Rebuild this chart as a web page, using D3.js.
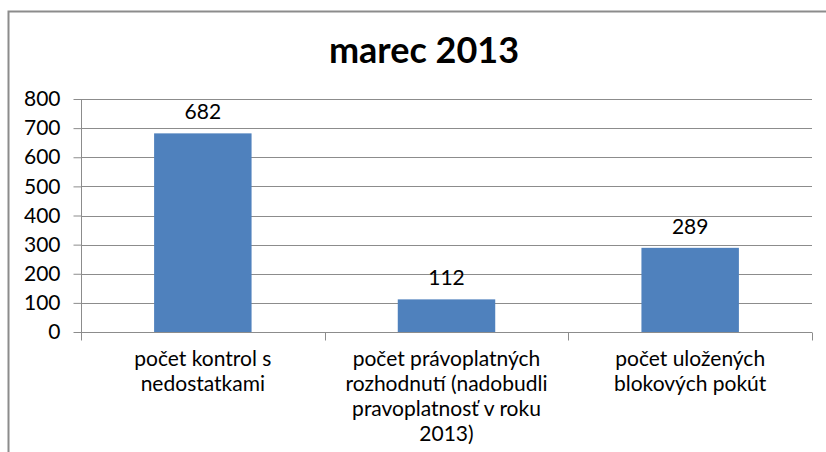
<!DOCTYPE html>
<html><head><meta charset="utf-8">
<script src="https://cdn.jsdelivr.net/npm/d3@7"></script>
<style>body{margin:0;background:#fff;}svg{display:block;}</style>
</head><body>
<svg id="c" width="826" height="452"></svg>
<script>
const title = "marec 2013";
const categories = [
  ["počet kontrol s", "nedostatkami"],
  ["počet právoplatných", "rozhodnutí (nadobudli", "pravoplatnosť  v roku", "2013)"],
  ["počet uložených", "blokových pokút"]
];
const values = [682, 112, 289];
const yTicks = [0, 100, 200, 300, 400, 500, 600, 700, 800];

const svg = d3.select("#c");
const font = "Lato, 'Open Sans', sans-serif";
const m = {left: 81, right: 812, top: 99, bottom: 332};

svg.append("rect").attr("x", 8.5).attr("y", 11.5).attr("width", 830).attr("height", 460)
  .attr("fill", "none").attr("stroke", "#8c8c8c").attr("stroke-width", 2);

svg.append("text").attr("x", 424).attr("y", 63).attr("text-anchor", "middle")
  .attr("font-family", font).attr("font-weight", "bold").attr("font-size", 36)
  .attr("fill", "#000").text(title);

const x = d3.scaleBand().domain(d3.range(values.length)).range([m.left, m.right]).paddingInner(0.6).paddingOuter(0.3);
const xb = d3.scaleBand().domain(d3.range(values.length)).range([m.left, m.right]);
const y = d3.scaleLinear().domain([0, 800]).range([m.bottom, m.top]);

// gridlines
svg.append("g").selectAll("line").data(yTicks.filter(d => d > 0)).join("line")
  .attr("x1", m.left).attr("x2", m.right).attr("y1", d => Math.round(y(d)) + 0.5).attr("y2", d => Math.round(y(d)) + 0.5)
  .attr("stroke", "#8c8c8c").attr("stroke-width", 1);

// y axis
const ya = svg.append("g").attr("transform", `translate(${m.left + 0.5},0)`)
  .call(d3.axisLeft(y).tickValues(yTicks).tickSize(8).tickPadding(13).tickFormat(d3.format("d")));
ya.select(".domain").attr("stroke", "#8c8c8c").attr("d", `M0,${m.top}V${m.bottom + 1}`);
ya.selectAll(".tick line").attr("stroke", "#8c8c8c");
ya.selectAll(".tick text").attr("font-family", font).attr("font-size", 21).attr("fill", "#000");

// bars
svg.append("g").selectAll("rect").data(values).join("rect")
  .attr("x", (d, i) => x(i)).attr("width", x.bandwidth())
  .attr("y", d => y(d)).attr("height", d => y(0) - y(d))
  .attr("fill", "#4f81bd");

// x axis
const xa = svg.append("g").attr("transform", `translate(0,${Math.round(y(0)) + 0.5})`);
xa.append("line").attr("x1", m.left).attr("x2", m.right).attr("stroke", "#8c8c8c");
xa.selectAll(".tk").data(d3.range(values.length + 1)).join("line").attr("class", "tk")
  .attr("x1", i => Math.round(m.left + i * xb.bandwidth()) + 0.5).attr("x2", i => Math.round(m.left + i * xb.bandwidth()) + 0.5)
  .attr("y1", 0).attr("y2", 8).attr("stroke", "#8c8c8c");

// category labels
categories.forEach((lines, i) => {
  const t = svg.append("text").attr("text-anchor", "middle").attr("font-family", font)
    .attr("font-size", 21).attr("fill", "#000");
  lines.forEach((ln, k) => {
    t.append("tspan").attr("x", xb(i) + xb.bandwidth() / 2).attr("y", 366 + k * 25).text(ln);
  });
});

// data labels
svg.append("g").selectAll("text").data(values).join("text")
  .attr("x", (d, i) => x(i) + x.bandwidth() / 2).attr("y", d => y(d) - 14)
  .attr("text-anchor", "middle").attr("font-family", font).attr("font-size", 21).attr("fill", "#000")
  .text(d => d);
</script>
</body></html>
